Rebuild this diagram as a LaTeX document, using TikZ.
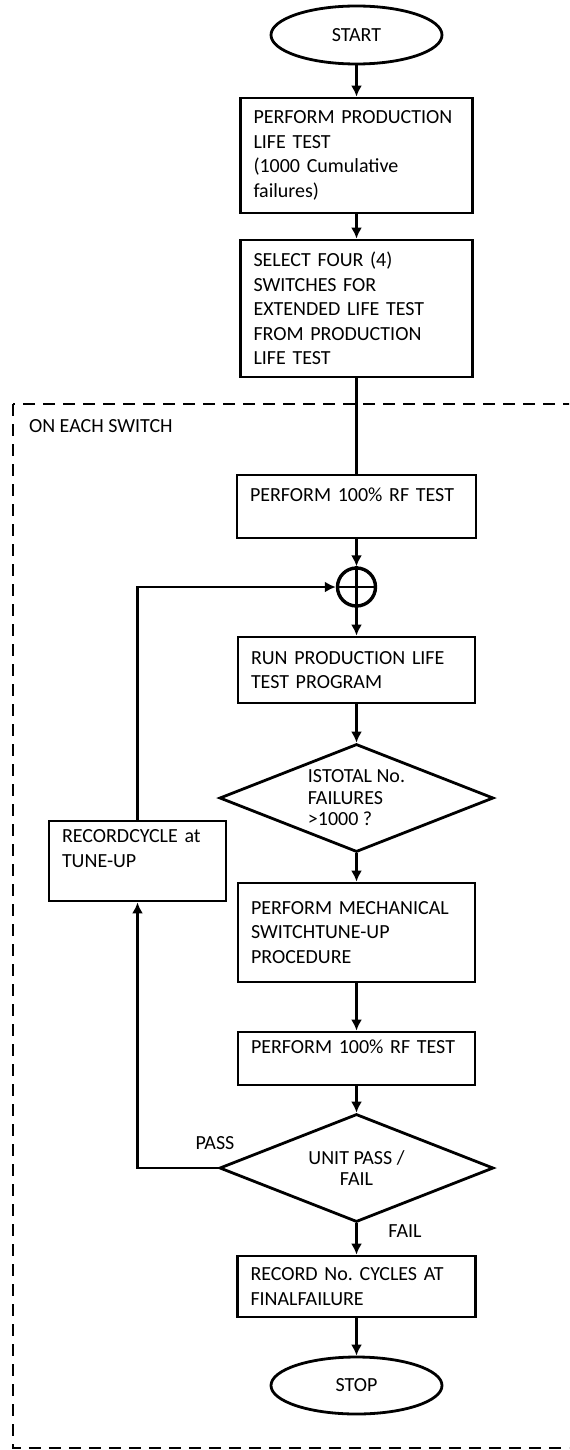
\documentclass[tikz,border=0pt]{standalone}
\usepackage{fontspec}
\setmainfont{Carlito}
\usetikzlibrary{shapes.geometric, arrows.meta, positioning, calc}
\frenchspacing

\begin{document}
\begin{tikzpicture}[x=0.5pt, y=-0.5pt,
            >={Latex[length=5.5pt,width=5.5pt]},
            every node/.style={font=\fontsize{10}{12.25}\selectfont},
            flow/.style={->, line width=1.4pt},
            stepbox/.style={draw, line width=1.4pt, rectangle, align=left,
                inner xsep=6.5pt, inner ysep=0pt},
            terminal/.style={draw, line width=1.4pt, ellipse,
                minimum width=85.5pt, minimum height=29pt, inner sep=0pt},
            decision/.style={draw, line width=1.4pt, diamond, inner sep=-6pt,
                minimum width=137pt, minimum height=54pt,
                font=\fontsize{10}{10.75}\selectfont}]
            \clip (0,0) rectangle (569,1450);

            % start
            \node[terminal] (start) at (356.5,35) {START};

            % production life test
            \node[stepbox, text width=103pt, minimum height=57.5pt] (perf) at (356.5,155.5) {
                PERFORM PRODUCTION\\
                LIFE TEST\\
                (1000 Cumulative\\
                failures)
            };

            % select switches
            \node[stepbox, text width=103pt, minimum height=68.5pt] (select) at (356.5,308.5) {
                SELECT FOUR (4)\\
                SWITCHES FOR\\
                EXTENDED LIFE TEST\\
                FROM PRODUCTION\\
                LIFE TEST
            };

            % loop on each switch
            \draw[dashed, line width=1pt, dash pattern=on 6pt off 4pt] (13,404) rectangle (600,1448);
            \node[anchor=west] (group) at (22,426) {ON EACH SWITCH};

            \node[stepbox, text width=106.5pt, minimum height=31.5pt] (rfone) at (356.5,506.5) {
                PERFORM 100\% RF TEST\\
                \mbox{}
            };

            \node[draw, circle, line width=1.7pt, minimum size=19pt, inner sep=0pt] (sum) at (356.5,587) {};
            \draw[line width=1.4pt] (sum.north) -- (sum.south) (sum.west) -- (sum.east);

            \node[stepbox, text width=105.5pt, minimum height=33pt] (run) at (356.5,670) {
                RUN PRODUCTION LIFE\\
                TEST PROGRAM
            };

            \node[decision, align=left] (total) at (356.5,798) {
                ISTOTAL No.\\
                FAILURES\\
                >1000 ?
            };

            \node[stepbox, text width=75.5pt, minimum height=40pt] (cycle) at (137.5,861) {
                RECORDCYCLE at\\
                TUNE-UP\\
                \mbox{}
            };

            \node[stepbox, text width=105.5pt, minimum height=49.5pt] (mech) at (356.5,932.5) {
                PERFORM MECHANICAL\\
                SWITCHTUNE-UP\\
                PROCEDURE
            };

            \node[stepbox, text width=105.5pt, minimum height=26.5pt] (rftwo) at (356.5,1058.5) {
                PERFORM 100\% RF TEST\\
                \mbox{}
            };

            \node[decision, align=center] (unit) at (356.5,1168) {
                UNIT PASS /\\
                FAIL
            };

            \node[stepbox, text width=106pt, minimum height=30.5pt] (final) at (356.5,1286.5) {
                RECORD No. CYCLES AT\\
                FINALFAILURE
            };

            % stop
            \node[terminal, minimum height=28.5pt] (stop) at (356.5,1385.5) {STOP};

            % branch labels
            \node (pass) at (215,1143) {PASS};
            \node (fail) at (405,1231) {FAIL};

            % connectors
            \draw[flow] (start) -- (perf);
            \draw[flow] (perf) -- (select);
            \draw[line width=1.4pt] (select.south) -- (rfone.north);
            \draw[flow] (rfone) -- (sum);
            \draw[flow] (sum) -- (run);
            \draw[flow] (run) -- (total);
            \draw[flow] (total) -- (mech);
            \draw[flow] (mech) -- (rftwo);
            \draw[flow] (rftwo) -- (unit);
            \draw[flow] (unit) -- (final);
            \draw[flow] (final) -- (stop);
            \draw[flow] (unit.west) -| (cycle.south);
            \draw[flow] (cycle.north) |- (sum.west);
        \end{tikzpicture}
\end{document}
